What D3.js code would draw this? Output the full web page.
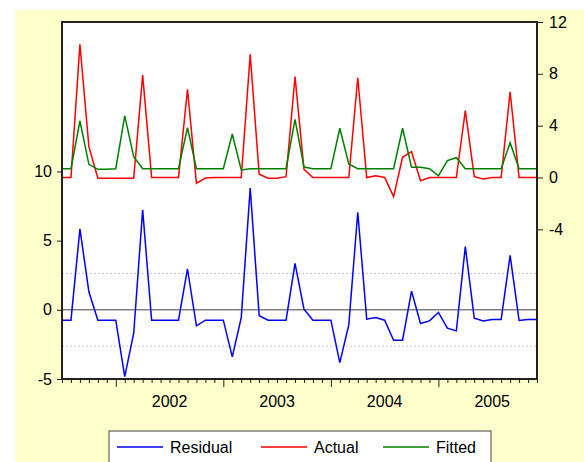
<!DOCTYPE html>
<html>
<head>
<meta charset="utf-8">
<script src="https://cdn.jsdelivr.net/npm/d3@7"></script>
<style>
  body { margin: 0; background: #fff; }
  svg text { font-family: "Liberation Sans", Arial, sans-serif; }
</style>
</head>
<body>
<div id="chart"></div>
<script>
// monthly sample 2001M07 - 2005M12
const startYear = 2001;
const startMonth = 7;

const residual = [-0.75, -0.75, 5.85, 1.3, -0.75, -0.75, -0.75, -4.83, -1.69, 7.22,
  -0.75, -0.75, -0.75, -0.75, 2.95, -1.16, -0.75, -0.75, -0.75, -3.4,
  -0.56, 8.8, -0.43, -0.75, -0.75, -0.75, 3.36, 0.05, -0.75, -0.75,
  -0.75, -3.82, -1.09, 7.05, -0.68, -0.56, -0.75, -2.2, -2.2, 1.35,
  -0.99, -0.8, -0.19, -1.33, -1.52, 4.57, -0.6, -0.8, -0.7, -0.7,
  3.94, -0.77, -0.7, -0.7];

const actual = [0, 0, 10.28, 2.38, -0.06, -0.06, -0.06, -0.06, -0.06, 7.9,
  0, 0, 0, 0, 6.8, -0.45, -0.04, 0, 0, 0,
  0, 9.5, 0.25, -0.06, -0.06, 0.06, 7.78, 0.63, 0, 0,
  0, 0, 0, 7.7, 0, 0.14, 0, -1.48, 1.56, 1.99,
  -0.25, 0, 0, 0, 0, 5.16, 0.06, -0.12, 0, 0,
  6.62, 0, 0, 0];

const fitted = [0.68, 0.68, 4.36, 1.02, 0.63, 0.63, 0.68, 4.75, 1.61, 0.68,
  0.68, 0.68, 0.68, 0.68, 3.85, 0.68, 0.68, 0.68, 0.68, 3.36,
  0.58, 0.68, 0.68, 0.68, 0.68, 0.68, 4.49, 0.81, 0.68, 0.68,
  0.68, 3.8, 1.04, 0.68, 0.68, 0.68, 0.68, 0.68, 3.8, 0.79,
  0.79, 0.68, 0.12, 1.3, 1.53, 0.68, 0.68, 0.68, 0.68, 0.68,
  2.69, 0.68, 0.68, 0.68];

const residStd = 2.63;
const leftTicks = [-5, 0, 5, 10];
const rightTicks = [-4, 0, 4, 8, 12];
const yearLabels = ['2002', '2003', '2004', '2005'];
const legendItems = [
  { name: 'Residual', color: '#0000ff' },
  { name: 'Actual', color: '#ff0000' },
  { name: 'Fitted', color: '#008000' }
];

// period labels like 2001M07
const periods = residual.map((_, i) => {
  const m = startMonth - 1 + i;
  const y = startYear + Math.floor(m / 12);
  return `${y}M${String(m % 12 + 1).padStart(2, '0')}`;
});

const W = 584, H = 462;
const margin = { top: 22, right: 47, bottom: 83, left: 62 };
const width = W - margin.left - margin.right;
const height = H - margin.top - margin.bottom;

const svg = d3.select('#chart')
  .append('svg')
  .attr('width', W)
  .attr('height', H);

// yellow panel background
svg.append('rect')
  .attr('x', 15).attr('y', 10)
  .attr('width', W - 15).attr('height', H - 10)
  .attr('fill', '#ffffcc');

const g = svg.append('g')
  .attr('transform', `translate(${margin.left},${margin.top})`);

g.append('rect')
  .attr('width', width).attr('height', height)
  .attr('fill', '#fefefe');

const x = d3.scalePoint().domain(periods).range([0, width]);
const yLeft = d3.scaleLinear().domain([-5, 20.8]).range([height, 0]);
const yRight = d3.scaleLinear().domain([-15.55, 12]).range([height, 0]);

// residual reference lines
[residStd, -residStd].forEach(v => {
  g.append('line')
    .attr('x1', 0).attr('x2', width)
    .attr('y1', yLeft(v)).attr('y2', yLeft(v))
    .attr('stroke', '#c8c8c8')
    .attr('stroke-dasharray', '2,2');
});
g.append('line')
  .attr('x1', 0).attr('x2', width)
  .attr('y1', yLeft(0)).attr('y2', yLeft(0))
  .attr('stroke', '#444')
  .attr('stroke-width', 1);

const lineL = d3.line().x((d, i) => x(periods[i])).y(d => yLeft(d));
const lineR = d3.line().x((d, i) => x(periods[i])).y(d => yRight(d));

g.append('path').datum(residual)
  .attr('d', lineL).attr('fill', 'none')
  .attr('stroke', '#0000ff').attr('stroke-width', 1.5);
g.append('path').datum(actual)
  .attr('d', lineR).attr('fill', 'none')
  .attr('stroke', '#ff0000').attr('stroke-width', 1.5);
g.append('path').datum(fitted)
  .attr('d', lineR).attr('fill', 'none')
  .attr('stroke', '#008000').attr('stroke-width', 1.5);

// frame
g.append('rect')
  .attr('width', width).attr('height', height)
  .attr('fill', 'none')
  .attr('stroke', '#222')
  .attr('stroke-width', 2);

// plain hyphen minus like the original
const fmt = d => String(d);

// left axis
const axL = g.append('g')
  .call(d3.axisLeft(yLeft).tickValues(leftTicks).tickSize(5).tickPadding(5).tickFormat(fmt));
axL.select('.domain').remove();
axL.selectAll('line').attr('stroke', '#222');
axL.selectAll('text').style('font-size', '16px').attr('fill', '#000');

// right axis
const axR = g.append('g')
  .attr('transform', `translate(${width},0)`)
  .call(d3.axisRight(yRight).tickValues(rightTicks).tickSize(6).tickPadding(6).tickFormat(fmt));
axR.select('.domain').remove();
axR.selectAll('line').attr('stroke', '#222');
axR.selectAll('text').style('font-size', '16px').attr('fill', '#000');

// bottom axis: monthly minor ticks, longer ticks at January
const axB = g.append('g')
  .attr('transform', `translate(0,${height})`)
  .call(d3.axisBottom(x).tickSize(4).tickFormat(''));
axB.select('.domain').remove();
axB.selectAll('.tick line')
  .attr('stroke', '#222')
  .attr('y2', d => d.endsWith('M01') ? 8 : 4);

// year labels centred on each year
yearLabels.forEach(yr => {
  const jan = x(`${yr}M01`);
  g.append('text')
    .attr('x', jan + 6 * x.step())
    .attr('y', height + 28)
    .attr('text-anchor', 'middle')
    .style('font-size', '16px')
    .text(yr);
});

// legend
const legend = svg.append('g');
legend.append('rect')
  .attr('x', 109).attr('y', 431)
  .attr('width', 382).attr('height', 40)
  .attr('fill', '#fff')
  .attr('stroke', '#444');
const legendX = [117, 261, 383];
legendItems.forEach((item, i) => {
  legend.append('line')
    .attr('x1', legendX[i]).attr('x2', legendX[i] + 46)
    .attr('y1', 447).attr('y2', 447)
    .attr('stroke', item.color).attr('stroke-width', 1.5);
  legend.append('text')
    .attr('x', legendX[i] + 53).attr('y', 453)
    .style('font-size', '16px')
    .text(item.name);
});
</script>
</body>
</html>
